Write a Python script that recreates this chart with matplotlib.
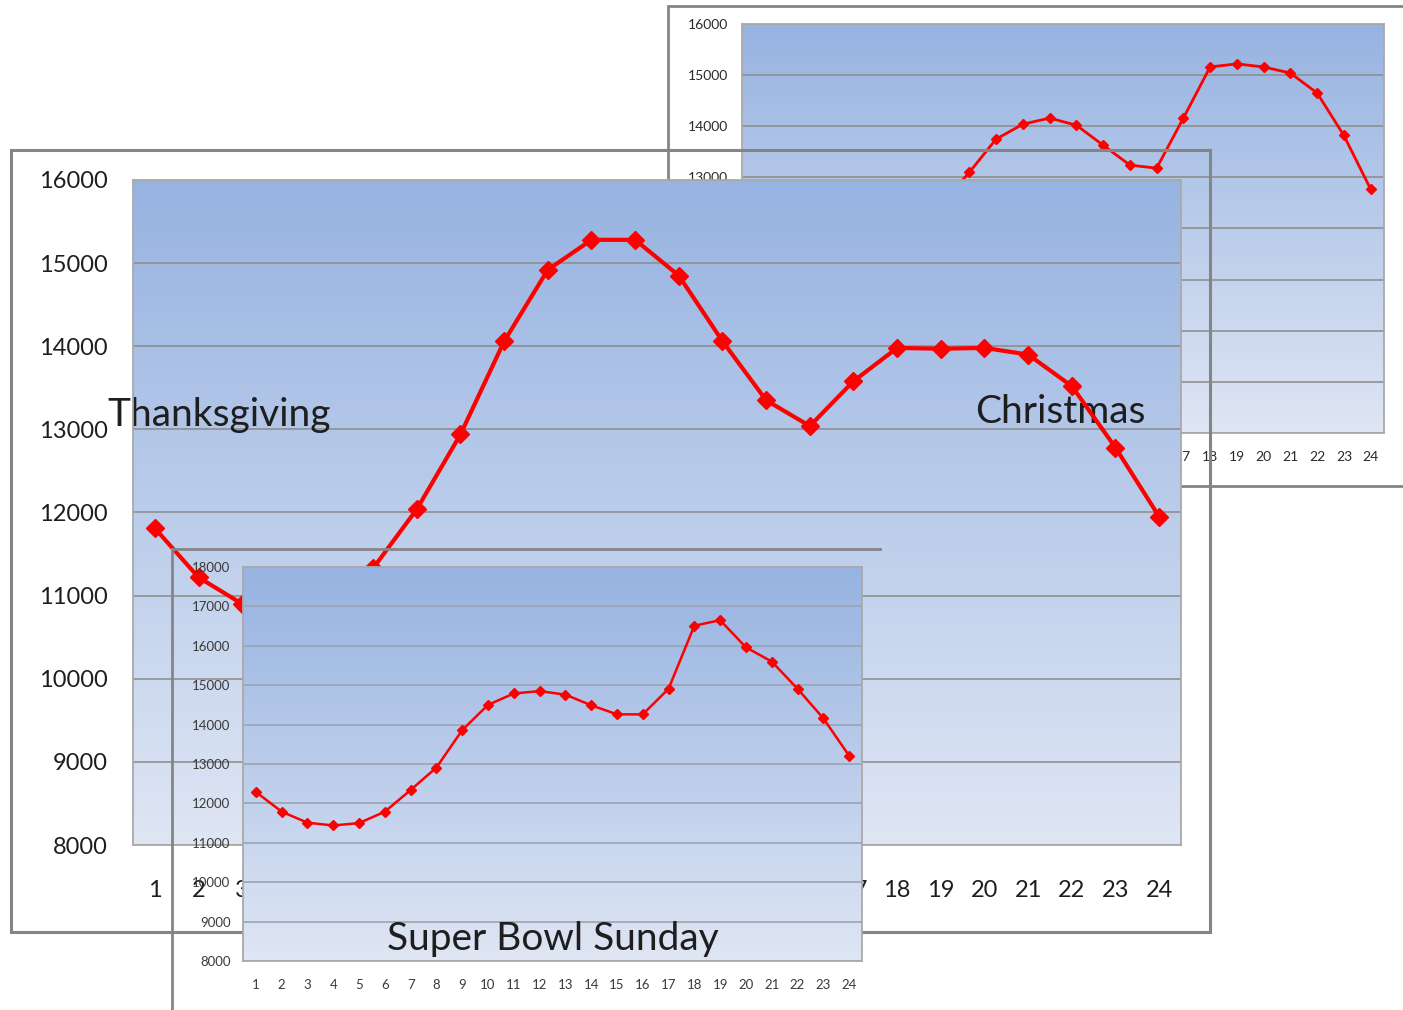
import numpy as np
import matplotlib
matplotlib.use("Agg")
import matplotlib.pyplot as plt
from matplotlib.colors import LinearSegmentedColormap
from matplotlib.lines import Line2D
from matplotlib.patches import Rectangle

plt.rcParams['font.family'] = ['Lato', 'DejaVu Sans']

# Hourly load for three holidays
hours = list(range(1, 25))
hour_labels = [str(h) for h in hours]
thanksgiving = [11810, 11220, 10900, 10780, 10900, 11330, 12040, 12940,
                14060, 14920, 15280, 15280, 14850, 14060, 13350, 13040,
                13580, 13980, 13970, 13980, 13900, 13520, 12780, 11950]
christmas = [11900, 11400, 11100, 11000, 11100, 11500, 12000, 12500,
             13100, 13750, 14040, 14160, 14020, 13630, 13240, 13180,
             14160, 15160, 15220, 15160, 15040, 14650, 13820, 12770]
super_bowl = [12290, 11790, 11510, 11440, 11500, 11790, 12340, 12910,
              13860, 14500, 14790, 14850, 14760, 14490, 14260, 14260,
              14910, 16510, 16650, 15960, 15600, 14910, 14160, 13210]
main_yticks = list(range(8000, 16001, 1000))
super_bowl_yticks = list(range(8000, 18001, 1000))

W, H = 1403, 1010
fig = plt.figure(figsize=(W / 100, H / 100), dpi=100)
fig.patch.set_facecolor('white')

GRAD = LinearSegmentedColormap.from_list('panel', ['#dfe6f4', '#97b3e1'])
FRAME = '#858585'
GRID = '#8f8f8f'
TEXT = '#1e1e1e'


def px_rect(l, t, r, b):
    return [l / W, 1 - b / H, (r - l) / W, (b - t) / H]


def fig_xy(x, y):
    return x / W, 1 - y / H


def panel(rect, z, values, yticks, lw, ms, tick_size, ypad, xpad, grid_color, label_color):
    ax = fig.add_axes(px_rect(*rect), zorder=z)
    ax.imshow(np.linspace(0, 1, 256).reshape(-1, 1), origin='lower',
              extent=[0, 1, 0, 1], transform=ax.transAxes, aspect='auto',
              cmap=GRAD, zorder=0, interpolation='bilinear')
    ax.plot(hours, values, color='#ff0000', lw=lw, marker='D', ms=ms,
            markeredgecolor='#ff0000', markerfacecolor='#ff0000', zorder=3,
            solid_joinstyle='round')
    ax.set_xlim(0.5, 24.5)
    ax.set_ylim(yticks[0], yticks[-1])
    ax.set_xticks(hours)
    ax.set_xticklabels(hour_labels)
    ax.set_yticks(yticks)
    ax.set_yticklabels([str(v) for v in yticks])
    ax.tick_params(length=0, labelsize=tick_size, colors=label_color)
    ax.tick_params(axis='y', pad=ypad)
    ax.tick_params(axis='x', pad=xpad)
    ax.grid(axis='y', color=grid_color, lw=1.2)
    ax.set_axisbelow(True)
    for s in ax.spines.values():
        s.set_color('#a9a9a9')
        s.set_linewidth(1.3)
    return ax


# Christmas panel (back)
fig.add_artist(Rectangle(fig_xy(668, 486), (1430 - 668) / W, (486 - 6) / H,
                         transform=fig.transFigure, fill=False,
                         ec=FRAME, lw=2.0, zorder=0.5))
ax_c = panel((742, 24, 1384, 433), 1, christmas, main_yticks,
             lw=2.0, ms=5, tick_size=10, ypad=10, xpad=13,
             grid_color=GRID, label_color='#2a2a2a')

# Thanksgiving panel (middle)
fig.add_artist(Rectangle(fig_xy(11, 932), (1210 - 11) / W, (932 - 150) / H,
                         transform=fig.transFigure, fill=False,
                         ec=FRAME, lw=2.2, zorder=1.5))
ax_t = panel((133, 180, 1181, 845), 2, thanksgiving, main_yticks,
             lw=3.0, ms=9, tick_size=17, ypad=18, xpad=25,
             grid_color=GRID, label_color=TEXT)
ax_t.text((107 - 133) / 1048, (845 - 426) / 665, 'Thanksgiving',
          transform=ax_t.transAxes, fontsize=28, color=TEXT,
          ha='left', va='baseline', zorder=2.5, clip_on=False)
ax_t.text((975 - 133) / 1048, (845 - 423) / 665, 'Christmas',
          transform=ax_t.transAxes, fontsize=28, color=TEXT,
          ha='left', va='baseline', zorder=2.5, clip_on=False)

# Super Bowl Sunday panel (front)
for xs, ys in (((172, 880), (549, 549)), ((172, 172), (549, 1015))):
    fx = [x / W for x in xs]
    fy = [1 - y / H for y in ys]
    fig.add_artist(Line2D(fx, fy, transform=fig.transFigure,
                          color=FRAME, lw=2.0, zorder=2.5))
ax_s = panel((243, 567, 862, 961), 3, super_bowl, super_bowl_yticks,
             lw=1.8, ms=5, tick_size=9.5, ypad=9, xpad=13,
             grid_color='#9aa3b3', label_color='#3a3a3a')
ax_s.text((387 - 243) / 619, (961 - 950) / 394, 'Super Bowl Sunday',
          transform=ax_s.transAxes, fontsize=28, color=TEXT,
          ha='left', va='baseline', zorder=2.5, clip_on=False)

fig.savefig('out.png', dpi=100)
